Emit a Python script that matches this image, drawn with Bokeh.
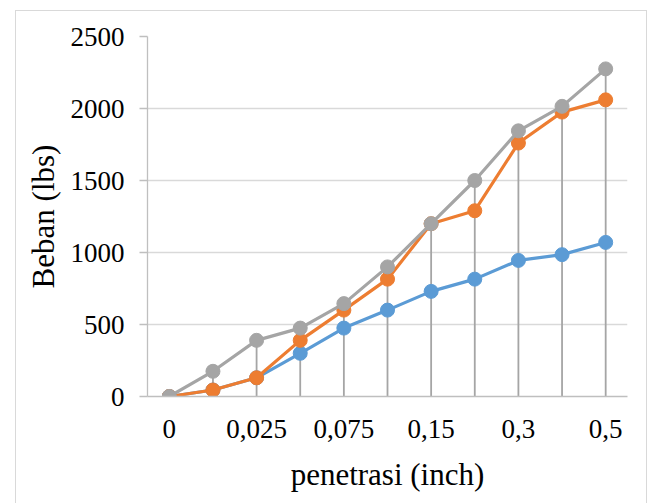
from bokeh.plotting import figure
from bokeh.models import Range1d, FixedTicker
from bokeh.embed import file_html
from bokeh.resources import INLINE

categories = ["0", "0,0125", "0,025", "0,05", "0,075", "0,1", "0,15", "0,2", "0,3", "0,4", "0,5"]
shown_labels = ["0", "0,025", "0,075", "0,15", "0,3", "0,5"]
series_blue = [0, 45, 130, 300, 475, 600, 730, 815, 945, 985, 1070]
series_orange = [0, 45, 130, 390, 600, 815, 1200, 1290, 1760, 1975, 2060]
series_gray = [0, 175, 390, 475, 645, 900, 1200, 1500, 1845, 2015, 2275]
y_ticks = [0, 500, 1000, 1500, 2000, 2500]

FONT = "Liberation Serif"

xs = list(range(len(categories)))
x_ticks = [i for i, c in enumerate(categories) if c in shown_labels]

p = figure(width=632, height=493, x_range=Range1d(-0.5, len(categories) - 0.5),
           y_range=Range1d(0, 2500), output_backend="svg", toolbar_location=None,
           min_border_left=131, min_border_right=21, min_border_top=25,
           min_border_bottom=108,
           styles={"border-top": "1px solid #D9D9D9",
                   "border-left": "1px solid #D9D9D9",
                   "border-right": "1px solid #D9D9D9",
                   "margin-left": "15px", "margin-top": "10px"})
p.outline_line_color = None
p.background_fill_color = "white"
p.border_fill_color = "white"

p.xgrid.grid_line_color = None
p.ygrid.grid_line_color = "#D9D9D9"
p.ygrid.grid_line_width = 1.3

p.yaxis.ticker = FixedTicker(ticks=y_ticks)
p.yaxis.axis_line_color = "#BFBFBF"
p.yaxis.axis_line_width = 1.3
p.yaxis.major_tick_line_color = "#BFBFBF"
p.yaxis.major_tick_line_width = 1.3
p.yaxis.major_tick_out = 8
p.yaxis.major_tick_in = 0
p.yaxis.minor_tick_line_color = None
p.yaxis.major_label_standoff = 15
p.yaxis.major_label_text_font = FONT
p.yaxis.major_label_text_font_size = "27px"
p.yaxis.major_label_text_color = "black"
p.yaxis.axis_label = "Beban (lbs)"
p.yaxis.axis_label_text_font = FONT
p.yaxis.axis_label_text_font_size = "31px"
p.yaxis.axis_label_text_font_style = "normal"
p.yaxis.axis_label_text_color = "black"
p.yaxis.axis_label_standoff = 7

p.xaxis.ticker = FixedTicker(ticks=x_ticks)
p.xaxis.major_label_overrides = {i: categories[i] for i in x_ticks}
p.xaxis.axis_line_color = "#BFBFBF"
p.xaxis.axis_line_width = 1.3
p.xaxis.major_tick_line_color = None
p.xaxis.minor_tick_line_color = None
p.xaxis.major_label_standoff = 17
p.xaxis.major_label_text_font = FONT
p.xaxis.major_label_text_font_size = "27px"
p.xaxis.major_label_text_color = "black"
p.xaxis.axis_label = "penetrasi (inch)"
p.xaxis.axis_label_text_font = FONT
p.xaxis.axis_label_text_font_size = "31px"
p.xaxis.axis_label_text_font_style = "normal"
p.xaxis.axis_label_text_color = "black"
p.xaxis.axis_label_standoff = 16

# drop lines from the highest series to the axis
tops = [max(a, b, c) for a, b, c in zip(series_blue, series_orange, series_gray)]
p.segment(x0=xs, y0=[0] * len(xs), x1=xs, y1=tops,
          line_color="#A5A5A5", line_width=1.8)

for vals, col in [(series_blue, "#5B9BD5"), (series_orange, "#ED7D31"), (series_gray, "#A5A5A5")]:
    p.line(xs, vals, line_color=col, line_width=3.2)
    p.scatter(xs, vals, size=14, fill_color=col, line_color=col)

open("out.html", "w").write(file_html(p, INLINE))
